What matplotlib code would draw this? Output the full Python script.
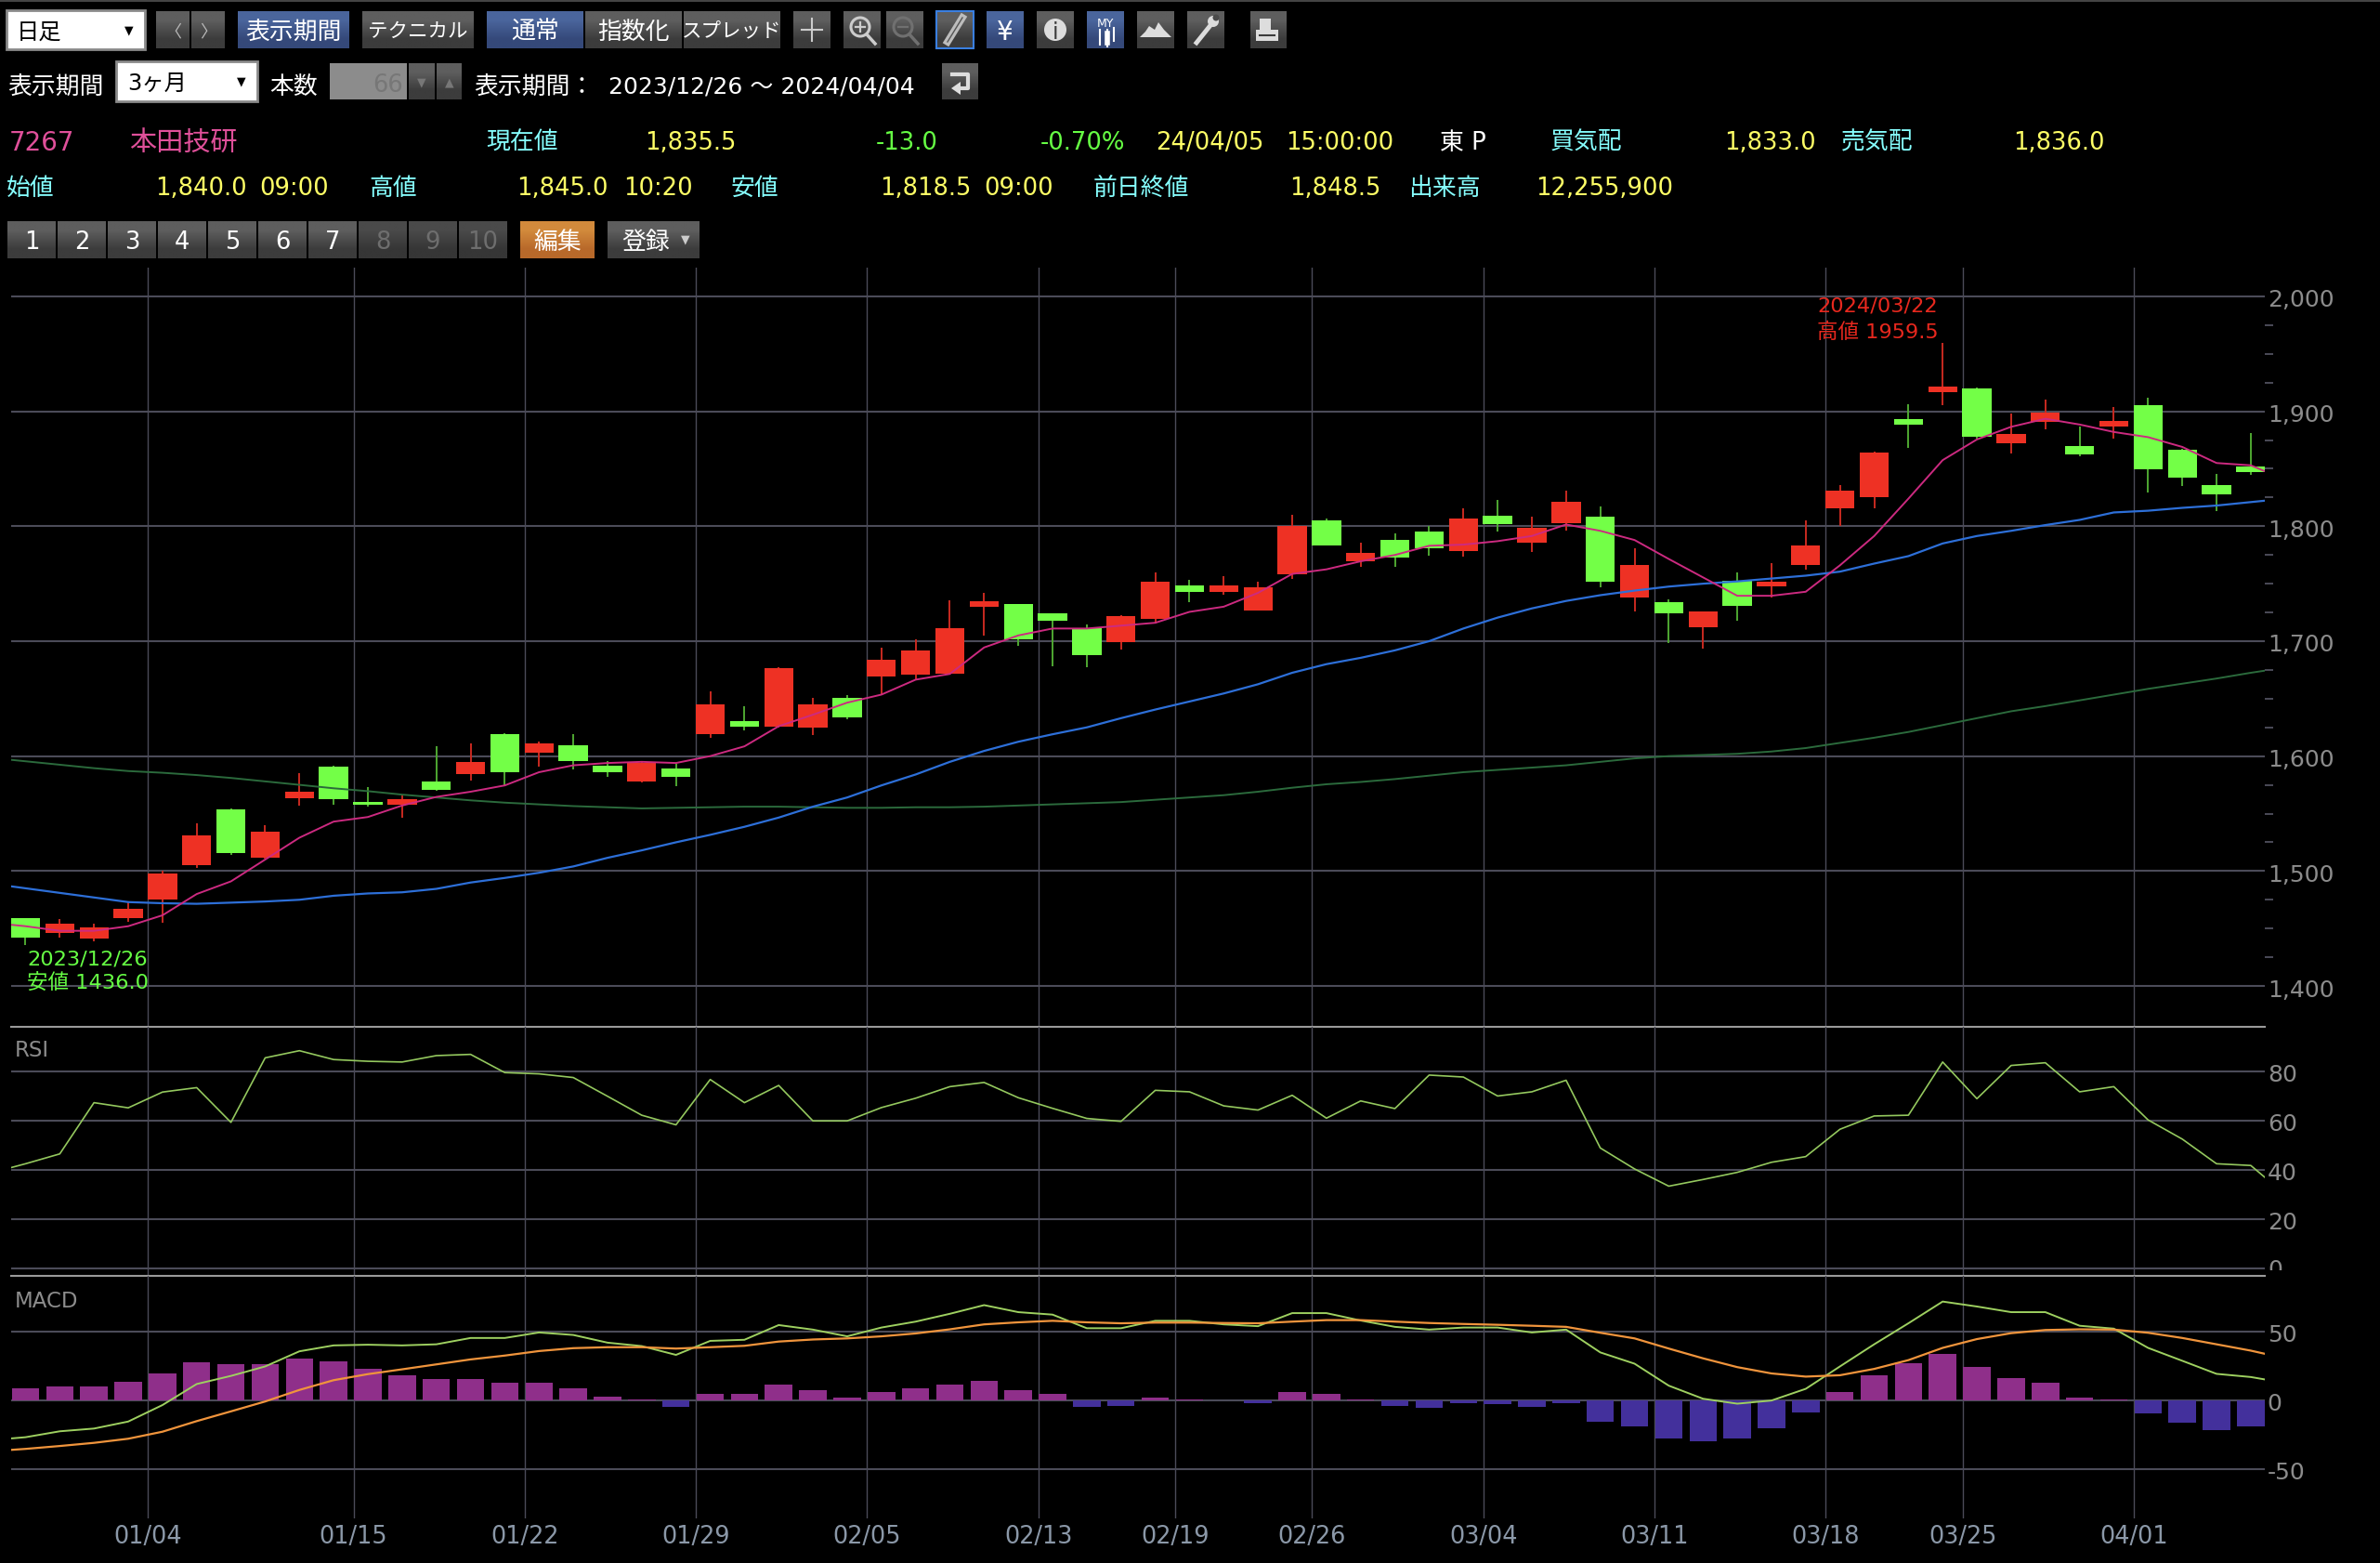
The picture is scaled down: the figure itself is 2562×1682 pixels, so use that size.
import numpy as np
import matplotlib
matplotlib.use("Agg")
import matplotlib.pyplot as plt
from matplotlib.patches import Rectangle, Circle, Polygon
from matplotlib.transforms import Bbox, ScaledTranslation

W, H = 2562, 1682
FONT = ['DejaVu Sans', 'Noto Sans CJK JP']
plt.rcParams['font.family'] = FONT

# candles, day 0 = 2023/12/26
opens = [1459, 1446, 1441, 1459, 1475, 1505, 1554, 1512, 1563, 1591, 1560.5, 1558, 1577.5, 1584, 1619.5, 1603, 1609.5,
         1591.5, 1577.5, 1589.5, 1619.5, 1630.5, 1626, 1624.5, 1651, 1669, 1671, 1671.5, 1730, 1732, 1724, 1711, 1699,
         1719, 1748.5, 1743, 1727, 1758.5, 1805, 1769.5, 1788.5, 1795, 1778.5, 1809.5, 1786, 1802.5, 1808.5, 1738,
         1734, 1712, 1752.5, 1748, 1766.5, 1815.5, 1825.5, 1893.5, 1917, 1920, 1872, 1890.5, 1870, 1886.5, 1905.5,
         1866.5, 1836, 1852]
highs = [1459, 1458, 1454, 1474, 1500, 1541.5, 1554.5, 1540, 1585, 1592, 1573, 1566, 1609, 1611, 1620, 1612.5, 1619,
         1596, 1594.5, 1593.5, 1656, 1643.5, 1677, 1651, 1653, 1694, 1701.5, 1735.5, 1742, 1732.5, 1724.5, 1714.5, 1723,
         1760, 1753.5, 1756.5, 1752, 1810, 1806.5, 1785.5, 1793.5, 1800, 1816, 1822.5, 1808, 1831, 1817.5, 1781,
         1736, 1726, 1760, 1767.5, 1805, 1836, 1865, 1906.5, 1959.5, 1920.5, 1898, 1910.5, 1886.5, 1903.5, 1912,
         1867, 1845.5, 1881]
lows = [1436, 1442, 1439, 1456, 1455, 1503, 1514, 1511, 1557, 1558, 1556, 1546, 1570, 1579, 1574.5, 1590.5, 1588.5,
        1582, 1577, 1574, 1616, 1622.5, 1625, 1618, 1632, 1654, 1666, 1671, 1705, 1696, 1678, 1677.5, 1692.5,
        1715, 1734, 1740.5, 1726.5, 1754.5, 1783, 1764.5, 1765, 1774, 1773.5, 1795, 1777.5, 1796, 1747, 1726,
        1698.5, 1693.5, 1718, 1738, 1762, 1800, 1816, 1868.5, 1905.5, 1876, 1863, 1884.5, 1860.5, 1876.5, 1829,
        1835, 1813.5, 1844.5]
closes = [1442, 1454, 1451, 1467, 1498, 1531, 1516, 1534, 1569, 1562.5, 1558, 1562.5, 1570.5, 1594.5, 1586, 1611, 1595.5,
          1586, 1594, 1582, 1645, 1626, 1676.5, 1645, 1634, 1684, 1692, 1711, 1735, 1702, 1718, 1688, 1722,
          1752, 1743, 1748.5, 1747, 1800, 1783.5, 1777, 1773, 1781, 1806.5, 1802, 1798.5, 1821.5, 1751.5, 1766,
          1724.5, 1725.5, 1731, 1752, 1783, 1831, 1864.5, 1888.5, 1921.5, 1878, 1880.5, 1898.5, 1862.5, 1892, 1849.5,
          1842, 1828, 1847.5]

# lines run one point past each end of the window, day -1 to day 66
ma_short = [1455, 1452, 1448, 1448, 1452, 1461.5, 1480, 1491, 1510, 1529, 1543, 1547, 1557, 1564.5, 1569, 1574.5, 1586,
            1592, 1594, 1595, 1594, 1600, 1608.5, 1626, 1636, 1646.5, 1653.5, 1666.5, 1671.5, 1694.5, 1705, 1711, 1711,
            1713.5, 1716, 1725.5, 1730, 1742, 1758.5, 1762.5, 1769.5, 1775, 1783, 1784, 1787, 1791.5, 1801.5, 1796,
            1788, 1771.5, 1755.5, 1739.5, 1739.5, 1743, 1766, 1791.5, 1824, 1857.5, 1875.5, 1886.5, 1893.5, 1888.5,
            1882, 1877.5, 1869, 1855, 1853, 1840.5]
ma_mid = [1489, 1485, 1481, 1477, 1473, 1472, 1471.5, 1472.5, 1473.5, 1475, 1478.5, 1480.5, 1481.5, 1484.5, 1490, 1494,
          1498.5, 1504, 1511.5, 1518, 1525, 1531.5, 1538.5, 1546.5, 1556, 1564, 1574.5, 1584, 1595, 1604.5, 1612.5, 1619,
          1625, 1633, 1640.5, 1647.5, 1654.5, 1662.5, 1672.5, 1680, 1685.5, 1692, 1700, 1711, 1720.5, 1728.5, 1735, 1740,
          1744, 1747.5, 1750, 1752, 1754.5, 1757, 1760.5, 1767.5, 1774, 1785, 1791.5, 1796, 1801, 1805.5, 1812, 1813.5,
          1816, 1818, 1821, 1824]
ma_long = [1598.5, 1595.5, 1592.5, 1589.5, 1587, 1585.5, 1583.5, 1581, 1578, 1575, 1572, 1569.5, 1566.5, 1564, 1561.5,
           1559.5, 1558, 1556.5, 1555.5, 1554.5, 1555, 1555.5, 1556, 1556, 1555.5, 1555, 1555, 1555.5, 1555.5, 1556,
           1557, 1558, 1559, 1560, 1562, 1564, 1566, 1569, 1572.5, 1575.5, 1577.5, 1580, 1583, 1586, 1588, 1590, 1592,
           1595, 1598, 1600, 1601, 1602, 1604, 1607, 1611.5, 1616, 1621, 1627, 1633, 1639, 1643.5, 1648.5, 1653.5,
           1658.5, 1663, 1667.5, 1672.5, 1677]
rsi = [38.7, 42.4, 46.4, 67.2, 65.1, 71.5, 73.3, 59.2, 85.4, 88.3, 84.7, 84.0, 83.7, 86.3, 86.8, 79.4, 78.9, 77.4, 69.8,
       62.1, 58.2, 76.6, 67.2, 74.2, 59.8, 59.8, 65.2, 69.0, 73.7, 75.4, 69.2, 64.9, 60.8, 59.6, 72.2, 71.6, 65.9, 64.2,
       70.2, 60.9, 67.9, 64.8, 78.4, 77.6, 69.9, 71.6, 76.3, 48.8, 40.3, 33.3, 36.0, 38.9, 43.0, 45.3, 56.4, 61.8, 62.1,
       83.7, 68.8, 82.3, 83.4, 71.6, 73.7, 60.2, 52.4, 42.4, 41.7, 30.0]
macd = [-29.1, -27.0, -22.7, -20.7, -15.6, -3.6, 11.7, 17.6, 24.5, 35.5, 39.8, 40.3, 39.8, 40.6, 45.2, 45.2, 49.2, 47.4,
        41.8, 39.3, 32.9, 43.1, 43.9, 54.6, 51.3, 46.4, 52.8, 57.1, 62.8, 69.1, 64.0, 62.2, 52.3, 52.3, 57.7, 57.7, 55.1,
        53.8, 63.3, 63.3, 57.9, 53.3, 51.3, 52.8, 52.8, 49.2, 51.3, 34.7, 26.5, 10.5, 1.0, -2.6, -0.3, 8.2, 24.5, 40.6,
        55.9, 71.7, 68.1, 64.0, 64.0, 54.1, 52.0, 38.0, 28.6, 19.1, 16.8, 12.5]
signal = [-37.2, -35.5, -33.4, -31.1, -28.1, -23.0, -15.3, -8.2, -1.0, 7.4, 14.5, 18.9, 22.4, 26.0, 29.6, 32.4, 35.7, 37.8,
          38.5, 38.5, 37.5, 38.5, 39.5, 42.6, 44.1, 44.9, 46.4, 48.5, 51.5, 55.1, 56.6, 57.7, 56.6, 55.9, 56.4, 56.4, 56.1,
          55.9, 57.1, 58.2, 58.2, 57.1, 56.1, 55.4, 54.8, 54.1, 53.3, 49.0, 44.9, 37.5, 30.4, 24.0, 19.4, 17.1, 18.1, 22.7,
          29.1, 38.0, 44.4, 48.7, 51.0, 51.5, 51.3, 49.0, 45.2, 40.6, 36.0, 30.4]
hist = [8.7, 9.9, 9.9, 13.0, 19.4, 27.3, 26.3, 26.3, 30.4, 28.3, 22.7, 18.1, 15.1, 15.3, 12.8, 12.8, 8.7, 2.6, 0.2, -4.6,
        4.3, 4.6, 11.5, 7.1, 1.5, 5.9, 8.7, 11.2, 14.0, 7.1, 4.6, -4.6, -4.1, 1.8, 0.4, 0.1, -2.3, 5.6, 4.6, 0.3, -4.1, -5.6,
        -2.3, -3.1, -4.6, -2.3, -15.6, -19.4, -27.8, -30.1, -27.6, -20.2, -9.2, 5.6, 18.1, 26.8, 33.4, 24.0, 16.1, 12.5,
        1.5, 0.2, -9.7, -16.1, -21.7, -19.4]

tick_days = [4, 10, 15, 20, 25, 30, 34, 38, 43, 48, 53, 57, 62]
tick_dates = ['01/04', '01/15', '01/22', '01/29', '02/05', '02/13', '02/19', '02/26', '03/04', '03/11', '03/18',
              '03/25', '04/01']
price_ticks = [1400, 1500, 1600, 1700, 1800, 1900, 2000]
price_minor = [1425, 1450, 1475, 1525, 1550, 1575, 1625, 1650, 1675, 1725, 1750, 1775, 1825, 1850, 1875, 1925, 1950,
               1975]
rsi_ticks = [20, 40, 60, 80]
macd_ticks = [-50, 0, 50]

RED, GREEN = '#ee3124', '#73ff47'
RED_W, GREEN_W = '#c92a20', '#4fa832'
GRID = '#4b4b58'
SEP = '#9a9a9a'
CYAN, YELLOW, LGREEN = '#86ffff', '#ffff66', '#66ff44'
AX_TXT = '#8c8c8c'
FS = 18.6

fig = plt.figure(figsize=(W / 100, H / 100), dpi=100, facecolor='black')
nudge = ScaledTranslation(0, -2 / 100, fig.dpi_scale_trans)


def panel(y0, y1):
    ax = fig.add_axes([12 / W, 1 - y1 / H, (2438 - 12) / W, (y1 - y0) / H], facecolor='none')
    ax.set_xlim(-0.42, 65.41)
    ax.set_xticks([d - 0.42 for d in tick_days])
    ax.grid(True, axis='x', color=GRID, lw=1.0, zorder=1)
    ax.grid(True, axis='y', color=GRID, lw=1.5, zorder=1)
    ax.set_axisbelow(True)
    ax.yaxis.tick_right()
    ax.tick_params(axis='y', length=0, pad=2, labelsize=18, labelcolor=AX_TXT)
    ax.tick_params(axis='x', length=0, labelbottom=False)
    for name, sp in ax.spines.items():
        sp.set_visible(False)
    return ax


def lower_labels(ax):
    for t in ax.yaxis.get_ticklabels():
        t.set_transform(t.get_transform() + nudge)


days = np.arange(66)
line_days = np.arange(-1, 67)

# price panel
ax = panel(288, 1104.7)
ax.set_ylim(1364.7, 2025)
ax.set_yticks(price_ticks)
ax.set_yticklabels([f'{v:,}' for v in price_ticks])
lower_labels(ax)
ax.set_yticks(price_minor, minor=True)
ax.tick_params(axis='y', which='minor', length=6.5, width=1.4, color=GRID)
ax.grid(False, which='minor')
ax.spines['bottom'].set_visible(True)
ax.spines['bottom'].set_color(SEP)
ax.spines['bottom'].set_linewidth(1.5)
o = np.array(opens)
c = np.array(closes)
up = c > o
ax.vlines(days[up], np.array(lows)[up], np.array(highs)[up], color=RED_W, lw=1.4, zorder=2)
ax.vlines(days[~up], np.array(lows)[~up], np.array(highs)[~up], color=GREEN_W, lw=1.4, zorder=2)
ax.bar(days[up], (c - o)[up], bottom=o[up], width=0.85, color=RED, zorder=3)
ax.bar(days[~up], (c - o)[~up], bottom=o[~up], width=0.85, color=GREEN, zorder=3)
ax.plot(line_days, ma_long, color='#2b6a3c', lw=1.4, zorder=4)
ax.plot(line_days, ma_mid, color='#2d6fd8', lw=1.6, zorder=4)
ax.plot(line_days, ma_short, color='#cc2a80', lw=1.4, zorder=4)
ax.text(0.05, 1422.7, '2023/12/26', color=LGREEN, fontsize=16.2, va='center', ha='left', zorder=5)
ax.text(0.05, 1402.4, '安値 1436.0', color=LGREEN, fontsize=16.2, va='center', ha='left', zorder=5)
ax.text(54.1, 1991.7, '2024/03/22', color='#e8281e', fontsize=16.2, va='center', ha='center', zorder=5)
ax.text(54.1, 1969, '高値 1959.5', color='#e8281e', fontsize=16.2, va='center', ha='center', zorder=5)

# RSI panel
ax2 = panel(1104.7, 1372.7)
ax2.set_ylim(-3, 98.1)
ax2.set_yticks([0] + rsi_ticks)
ax2.set_yticklabels([''] + [str(v) for v in rsi_ticks])
lower_labels(ax2)
ax2.spines['bottom'].set_visible(True)
ax2.spines['bottom'].set_color(SEP)
ax2.spines['bottom'].set_linewidth(1.5)
ax2.plot(line_days, rsi, color='#94c85e', lw=1.2, zorder=4)
ax2.text(0.0015, 0.905, 'RSI', color=AX_TXT, fontsize=16.5, va='center', transform=ax2.transAxes)
zero = ax2.text(1.0015, 0, '0', color=AX_TXT, fontsize=18, va='center', ha='left',
                transform=ax2.get_yaxis_transform() + nudge)
zero.set_clip_on(True)
zero.set_clip_box(Bbox([[2420, H - 1367], [2560, H - 1340]]))

# MACD panel
ax3 = panel(1372.7, 1633.6)
ax3.set_ylim(-85.8, 90.6)
ax3.set_yticks(macd_ticks)
ax3.set_yticklabels([str(v) for v in macd_ticks])
lower_labels(ax3)
ax3.set_xticklabels(tick_dates)
ax3.tick_params(axis='x', labelbottom=True, labelsize=18.4, labelcolor='#8b98a8', pad=5)
h = np.array(hist)
ax3.bar(days[h >= 0], h[h >= 0], width=0.8, color='#8f2f8a', zorder=3)
ax3.bar(days[h < 0], h[h < 0], width=0.8, color='#43309c', zorder=3)
ax3.plot(line_days, macd, color='#9ed060', lw=1.4, zorder=4)
ax3.plot(line_days, signal, color='#f0943c', lw=1.6, zorder=5)
ax3.text(0.0015, 0.895, 'MACD', color=AX_TXT, fontsize=16.5, va='center', transform=ax3.transAxes)

# toolbar and quote rows, screen furniture in pixel space
ui = fig.add_axes([0, 0, 1, 1], facecolor='none', zorder=-1)
ui.axis('off')


def txt(x, y, s, color='white', size=FS, ha='left'):
    ui.text(x, y, s, color=color, fontsize=size, ha=ha, va='center_baseline')


def button(x0, x1, y0, y1, label=None, top='#5e5e5e', bot='#3c3c3c', color='white', size=FS, edge=None):
    rgb = np.array([matplotlib.colors.to_rgb(top), matplotlib.colors.to_rgb(bot)]).reshape(2, 1, 3)
    ui.imshow(rgb, extent=(x0, x1, y1, y0), aspect='auto', interpolation='bilinear', zorder=1)
    if edge:
        ui.add_patch(Rectangle((x0, y0), x1 - x0, y1 - y0, fill=False, ec=edge, lw=1.5, zorder=2))
    if label:
        txt((x0 + x1) / 2, (y0 + y1) / 2, label, color, size, 'center')


def dropdown(x0, x1, y0, y1, label, tx):
    ui.add_patch(Rectangle((x0, y0), x1 - x0, y1 - y0, fc='white', ec='#8a8a8a', lw=2, zorder=1))
    txt(tx, (y0 + y1) / 2, label, 'black', 17.5)
    txt(x1 - 17, (y0 + y1) / 2 - 1, '▼', 'black', 9, 'center')


BLUE_T, BLUE_B = '#4a659c', '#35497a'
ui.add_patch(Rectangle((0, 0), W, 2, fc='#444444', zorder=1))
dropdown(7, 156, 11, 53, '日足', 18)
button(168, 204, 12, 52, '〈', color='#bbbbbb', size=13)
button(206, 242, 12, 52, '〉', color='#bbbbbb', size=13)
button(256, 376, 12, 52, '表示期間', BLUE_T, BLUE_B)
button(390, 510, 12, 52, 'テクニカル', size=15.5)
button(524, 628, 12, 52, '通常', BLUE_T, BLUE_B)
button(630, 734, 12, 52, '指数化')
button(736, 840, 12, 52, 'スプレッド', size=15.5)
button(854, 894, 12, 52)
button(908, 948, 12, 52)
button(954, 994, 12, 52)
button(1008, 1048, 12, 52, edge='#3a7fe0')
button(1062, 1102, 12, 52, '¥', BLUE_T, BLUE_B, size=20)
button(1116, 1156, 12, 52)
button(1170, 1210, 12, 52, None, BLUE_T, BLUE_B)
button(1224, 1264, 12, 52)
button(1278, 1318, 12, 52)
button(1346, 1385, 12, 52)

# toolbar icons
ui.plot([863, 885], [32, 32], color='#cccccc', lw=1.5, zorder=3)
ui.plot([874, 874], [20, 44], color='#cccccc', lw=1.5, zorder=3)
ui.add_patch(Circle((926, 29), 10, fill=False, ec='#cccccc', lw=2.2, zorder=3))
ui.plot([933, 942], [37, 47], color='#cccccc', lw=2.5, zorder=3)
ui.plot([921, 931], [29, 29], color='#cccccc', lw=1.6, zorder=3)
ui.plot([926, 926], [24, 34], color='#cccccc', lw=1.6, zorder=3)
ui.add_patch(Circle((972, 29), 10, fill=False, ec='#707070', lw=2.2, zorder=3))
ui.plot([979, 988], [37, 47], color='#707070', lw=2.5, zorder=3)
ui.plot([967, 977], [29, 29], color='#707070', lw=1.6, zorder=3)
ui.plot([1020, 1036], [45, 19], color='#bdbdbd', lw=5.5, zorder=3)
ui.plot([1020, 1036], [45, 19], color='#555555', lw=1, zorder=4)
ui.add_patch(Circle((1136, 32), 12, fc='#dddddd', zorder=3))
txt(1136, 32, 'i', '#3c3c3c', 17, 'center')
txt(1190, 24, 'MY', 'white', 9, 'center')
ui.plot([1184, 1184], [32, 48], color='white', lw=1.5, zorder=3)
ui.plot([1192, 1192], [32, 50], color='white', lw=1.5, zorder=3)
ui.plot([1192, 1192], [36, 46], color='white', lw=4, zorder=3)
ui.plot([1199, 1199], [30, 44], color='white', lw=1.5, zorder=3)
ui.add_patch(Polygon([(1227, 40), (1233, 34), (1237, 28), (1243, 32), (1247, 24), (1253, 32), (1261, 40)],
                     fc='#dddddd', zorder=3))
ui.plot([1288, 1304], [46, 26], color='#dddddd', lw=3.5, zorder=3)
ui.add_patch(Circle((1306, 23), 6, fc='#dddddd', zorder=3))
ui.add_patch(Circle((1309, 19), 3.5, fc='#4a4a4a', zorder=4))
ui.add_patch(Rectangle((1356, 20), 12, 12, fc='#dddddd', zorder=3))
ui.add_patch(Rectangle((1352, 32), 24, 12, fc='#dddddd', zorder=3))
ui.plot([1356, 1372], [38, 38], color='#3c3c3c', lw=1.5, zorder=4)

# row 2
txt(8, 91, '表示期間')
dropdown(125, 277, 66, 109, '3ヶ月', 137)
txt(290, 91, '本数')
ui.add_patch(Rectangle((355, 68), 83, 39, fc='#8c8c8c', zorder=1))
txt(434, 89, '66', '#777777', FS, 'right')
button(440, 468, 68, 107, '▼', color='#777777', size=9)
button(470, 497, 68, 107, '▲', color='#777777', size=9)
txt(510, 91, '表示期間：')
txt(655, 91, '2023/12/26 ～ 2024/04/04', size=18)
button(1014, 1053, 68, 107)
ui.plot([1025, 1042, 1042, 1032], [80, 80, 95, 95], color='#dddddd', lw=3, zorder=3)
ui.add_patch(Polygon([(1034, 88), (1034, 102), (1024, 95)], fc='#dddddd', zorder=3))

# row 3
txt(10, 151, '7267', '#e0509a', 20)
txt(139, 151, '本田技研', '#e0509a', 21)
for x, s, col in [(524, '現在値', CYAN), (695, '1,835.5', YELLOW), (944, '-13.0', LGREEN), (1121, '-0.70%', LGREEN),
                  (1245, '24/04/05', YELLOW), (1385, '15:00:00', YELLOW), (1551, '東 P', 'white'), (1670, '買気配', CYAN),
                  (1857, '1,833.0', YELLOW), (1983, '売気配', CYAN), (2168, '1,836.0', YELLOW)]:
    txt(x - 1, 150.5, s, col)

# row 4
for x, s, col in [(8, '始値', CYAN), (168, '1,840.0', YELLOW), (280, '09:00', YELLOW), (398, '高値', CYAN),
                  (557, '1,845.0', YELLOW), (672, '10:20', YELLOW), (788, '安値', CYAN), (948, '1,818.5', YELLOW),
                  (1060, '09:00', YELLOW), (1178, '前日終値', CYAN), (1389, '1,848.5', YELLOW), (1517, '出来高', CYAN),
                  (1654, '12,255,900', YELLOW)]:
    txt(x - 1, 199.5, s, col)

# row 5
for k in range(10):
    x0 = 8 + k * 54
    on = k < 7
    button(x0, x0 + 52, 238, 278, str(k + 1), '#5e5e5e' if on else '#4a4a4a', '#3c3c3c' if on else '#363636',
           'white' if on else '#6e6e6e')
button(560, 640, 238, 278, '編集', '#d28a3c', '#b8692a')
button(654, 753, 238, 278)
txt(695, 258, '登録', 'white', FS, 'center')
txt(738, 256, '▼', '#cccccc', 9, 'center')

ui.set_xlim(0, W)
ui.set_ylim(H, 0)

fig.savefig('out.png', dpi=100, facecolor='black')
